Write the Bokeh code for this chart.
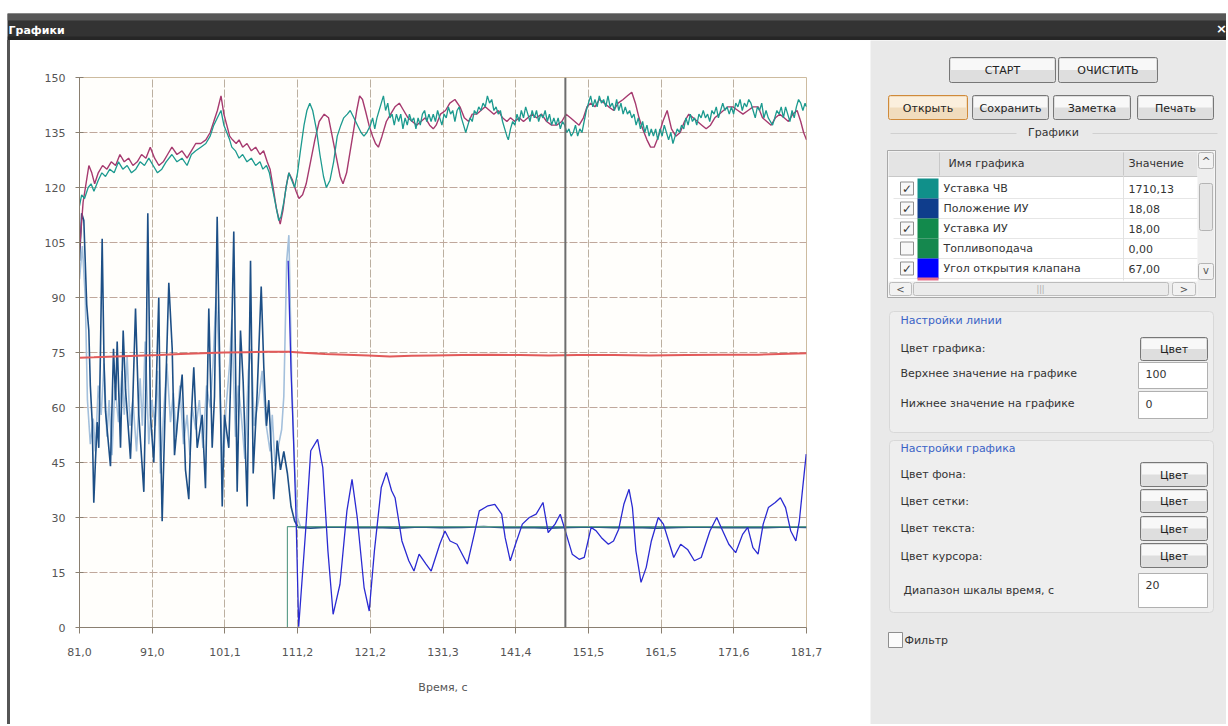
from bokeh.plotting import figure
from bokeh.models import Range1d, FixedTicker, Span, Spacer, Div
from bokeh.layouts import row, column
from bokeh.embed import file_html
from bokeh.resources import INLINE
from bokeh.core.properties import value

FONT = "DejaVu Sans"

# ---------------- data ----------------
x_ticks = [81.0, 91.07, 101.14, 111.21, 121.28, 131.35, 141.42, 151.49, 161.56, 171.63, 181.7]
x_labels = ["81,0", "91,0", "101,1", "111,2", "121,2", "131,3", "141,4", "151,5", "161,5", "171,6", "181,7"]
y_ticks = [0, 15, 30, 45, 60, 75, 90, 105, 120, 135, 150]
cursor_t = 148.3

teal_t = [81.0, 81.3, 81.7, 82.2, 82.6, 83.0, 83.6, 84.1, 84.6, 85.2, 85.8, 86.4, 87.0, 87.6, 88.2, 88.8, 89.4, 90.0,
          90.6, 91.2, 91.8, 92.4, 93.0, 93.8, 94.5, 95.2, 95.9, 96.5, 97.1, 97.8, 98.5, 99.1, 99.6, 100.1, 100.6,
          101.0, 101.4, 101.8, 102.1, 102.6, 103.1, 103.6, 104.2, 104.8, 105.4, 106.0, 106.4, 106.9, 107.3, 107.8,
          108.2, 108.6, 108.9, 109.3, 109.7, 110.0, 110.4, 110.8, 111.2, 111.6, 112.1, 112.5, 112.9, 113.3, 113.8,
          114.3, 114.8, 115.2, 115.7, 116.2, 116.7, 117.2, 117.6, 118.1, 118.5, 119.0, 119.5, 120.0, 120.4, 120.8,
          121.3, 121.6, 121.9, 122.2, 122.5, 122.8, 123.1, 123.4, 123.7, 124.0, 124.3, 124.6, 124.9, 125.2, 125.5,
          125.8, 126.1, 126.4, 126.7, 127.0, 127.3, 127.6, 127.9, 128.2, 128.5, 128.8, 129.1, 129.4, 129.7, 130.0,
          130.3, 130.6, 130.9, 131.2, 131.5, 131.8, 132.1, 132.4, 132.7, 133.0, 133.3, 133.6, 133.9, 134.2, 134.5,
          134.8, 135.1, 135.4, 135.7, 136.0, 136.3, 136.6, 136.9, 137.2, 137.5, 137.8, 138.1, 138.4, 138.7, 139.0,
          139.3, 139.6, 139.9, 140.2, 140.4, 140.7, 141.0, 141.3, 141.6, 141.9, 142.2, 142.5, 142.8, 143.1, 143.4,
          143.7, 144.0, 144.3, 144.6, 144.9, 145.2, 145.5, 145.8, 146.1, 146.4, 146.7, 147.0, 147.3, 147.6, 147.9,
          148.2, 148.5, 148.8, 149.1, 149.4, 149.7, 150.0, 150.3, 150.6, 150.9, 151.2, 151.5, 151.8, 152.1, 152.4,
          152.7, 153.0, 153.3, 153.6, 153.9, 154.2, 154.5, 154.8, 155.1, 155.4, 155.7, 156.0, 156.3, 156.6, 156.9,
          157.2, 157.5, 157.8, 158.1, 158.4, 158.7, 159.0, 159.3, 159.6, 159.9, 160.2, 160.5, 160.8, 161.1, 161.4,
          161.7, 162.0, 162.3, 162.6, 162.9, 163.2, 163.5, 163.8, 164.1, 164.4, 164.7, 165.0, 165.3, 165.6, 165.9,
          166.2, 166.5, 166.8, 167.1, 167.4, 167.7, 168.0, 168.3, 168.6, 168.9, 169.2, 169.5, 169.8, 170.1, 170.4,
          170.7, 171.0, 171.3, 171.6, 171.9, 172.2, 172.5, 172.8, 173.1, 173.4, 173.7, 174.0, 174.3, 174.6, 174.9,
          175.2, 175.5, 175.8, 176.1, 176.4, 176.7, 177.0, 177.3, 177.6, 177.9, 178.2, 178.5, 178.8, 179.1, 179.4,
          179.7, 180.0, 180.3, 180.6, 180.9, 181.2, 181.5, 181.7]
teal_v = [115, 118, 117, 120, 121, 119, 122, 124, 123, 125, 124, 127, 125, 126, 124, 125, 127, 126,
          128, 126, 124, 125, 127, 129, 127, 128, 126, 129, 130, 131, 132, 134, 137, 139, 141,
          137, 135, 133, 131, 130, 128, 129, 127, 128, 126, 127, 125, 126, 124, 119,
          115, 111, 112, 116, 121, 124, 122, 120, 124, 130, 137, 141, 143, 141, 136,
          129, 123, 120, 122, 127, 134, 137, 139, 140, 141, 139, 137, 135, 134, 135,
          137, 139, 136, 139, 141, 143, 145, 141, 143, 139, 140, 137, 140, 138, 140,
          136, 139, 137, 140, 138, 139, 136, 139, 137, 140, 141, 138, 140, 138, 140,
          138, 141, 139, 137, 140, 139, 142, 140, 141, 138, 141, 142, 139, 137, 135,
          137, 139, 138, 141, 140, 142, 141, 143, 142, 145, 143, 144, 141, 142, 140,
          141, 138, 136, 134, 133, 136, 138, 137, 140, 138, 141, 139, 142, 140, 138,
          141, 139, 141, 138, 140, 139, 141, 138, 140, 137, 139, 137, 139, 136, 138,
          137, 135, 136, 134, 135, 137, 134, 136, 135, 138, 141, 143, 145, 142, 144,
          142, 145, 143, 144, 142, 145, 142, 143, 141, 144, 141, 143, 140, 142, 140,
          141, 139, 140, 137, 139, 136, 138, 135, 137, 134, 136, 134, 136, 133, 136,
          134, 137, 135, 133, 135, 132, 134, 136, 135, 137, 136, 139, 137, 140, 138,
          139, 137, 140, 139, 141, 139, 140, 138, 141, 140, 142, 139, 141, 143, 141,
          142, 140, 142, 140, 143, 142, 144, 141, 143, 142, 144, 143, 141, 139, 142,
          141, 143, 139, 141, 139, 138, 137, 139, 141, 140, 142, 139, 142, 140, 138,
          141, 139, 142, 144, 143, 141, 143, 142]

mag_t = [81.0, 81.2, 81.5, 81.9, 82.3, 82.7, 83.1, 83.6, 84.2, 84.8, 85.4, 86.0, 86.6, 87.2, 87.8, 88.4, 89.0, 89.6,
         90.2, 90.8, 91.4, 92.0, 92.6, 93.2, 93.8, 94.5, 95.2, 95.9, 96.5, 97.1, 97.8, 98.5, 99.1, 99.6, 100.1,
         100.6, 101.0, 101.4, 101.8, 102.2, 102.7, 103.1, 103.6, 104.2, 104.8, 105.4, 106.0, 106.5, 107.0, 107.4,
         107.9, 108.3, 108.8, 109.2, 109.6, 110.0, 110.5, 111.0, 111.4, 111.9, 112.4, 113.0, 113.6, 114.2, 114.9,
         115.5, 116.0, 116.6, 117.1, 117.5, 118.0, 118.5, 119.0, 119.4, 119.8, 120.2, 120.6, 121.1, 121.6, 122.0,
         122.4, 122.9, 123.5, 124.1, 124.7, 125.3, 125.9, 126.5, 127.1, 127.7, 128.3, 128.9, 129.5, 130.0, 130.4,
         131.0, 131.7, 132.3, 133.0, 133.7, 134.3, 134.9, 135.4, 136.0, 136.6, 137.2, 137.8, 138.4, 139.0, 139.6,
         140.2, 140.7, 141.3, 141.9, 142.5, 143.1, 143.7, 144.3, 145.0, 145.7, 146.4, 147.1, 147.8, 148.4, 149.0,
         149.6, 150.2, 150.8, 151.3, 151.8, 152.4, 153.0, 153.7, 154.3, 155.0, 155.6, 156.3, 156.9, 157.5, 158.0,
         158.5, 159.0, 159.6, 160.1, 160.6, 161.2, 161.8, 162.4, 163.0, 163.6, 164.2, 164.8, 165.4, 166.0, 166.6,
         167.2, 167.8, 168.4, 169.0, 169.6, 170.2, 170.8, 171.5, 172.2, 172.9, 173.6, 174.3, 175.0, 175.6, 176.2,
         176.8, 177.4, 178.0, 178.6, 179.2, 179.8, 180.4, 180.9, 181.3, 181.7]
mag_v = [103, 108, 116, 121, 126, 124, 121, 124, 126, 125, 127, 126, 129, 127, 128, 126, 127, 129,
         128, 131, 128, 126, 127, 129, 131, 129, 130, 128, 130, 132, 132, 133, 135, 138, 141,
         145, 140, 137, 134, 133, 132, 133, 131, 132, 130, 131, 129, 130, 127, 125,
         119, 114, 110, 114, 120, 124, 122, 119, 117, 118, 121, 127, 133, 138, 140,
         139, 134, 128, 123, 121, 124, 130, 136, 141, 145, 144, 141, 137, 134, 132,
         131, 134, 138, 140, 142, 143, 141, 139, 138, 137, 138, 139, 137, 136, 137,
         140, 141, 143, 144, 142, 139, 138, 140, 140, 141, 142, 141, 140, 141, 139,
         138, 139, 138, 139, 138, 139, 140, 139, 140, 138, 137, 137, 138, 140, 139,
         138, 137, 139, 142, 143, 142, 144, 143, 142, 141, 143, 144, 145, 146, 143,
         139, 136, 133, 131, 131, 134, 138, 141, 136, 134, 135, 138, 140, 139, 138,
         137, 136, 137, 139, 140, 141, 142, 142, 141, 140, 141, 142, 142, 139, 138,
         137, 139, 140, 139, 138, 140, 141, 138, 135, 133]

red_t = [81.0, 83.0, 86.0, 89.0, 92.0, 95.0, 98.0, 101.0, 104.0, 107.0, 110.0, 112.0, 115.0, 118.0, 121.0, 124.0,
         127.0, 130.0, 134.0, 138.0, 142.0, 146.0, 150.0, 155.0, 160.0, 165.0, 170.0, 175.0, 178.0, 181.7]
red_v = [73.6, 73.7, 73.9, 74.1, 74.3, 74.6, 74.8, 75.0, 75.1, 75.2, 75.2, 74.9, 74.6, 74.4, 74.2, 73.9,
         74.1, 74.2, 74.3, 74.4, 74.3, 74.2, 74.3, 74.3, 74.2, 74.3, 74.4, 74.4, 74.6, 74.8]

light_t = [81.0, 81.4, 81.8, 82.1, 82.5, 82.9, 83.2, 83.6, 84.0, 84.4, 84.8, 85.1, 85.5, 85.9, 86.4, 86.9, 87.2,
           87.6, 88.0, 88.4, 88.9, 89.4, 89.7, 90.1, 90.6, 91.0, 91.5, 91.8, 92.2, 92.7, 93.1, 93.6, 94.0, 94.4,
           94.9, 95.4, 95.9, 96.3, 96.6, 97.1, 97.6, 98.1, 98.6, 99.1, 99.5, 99.9, 100.2, 100.6, 100.9, 101.3,
           101.8, 102.1, 102.6, 103.0, 103.4, 103.9, 104.4, 104.8, 105.2, 105.8, 106.3, 106.8, 107.4, 107.7, 108.1,
           108.6, 109.0, 109.3, 109.7, 110.0, 110.4, 110.8, 111.2, 111.6]
light_v = [95, 104, 90, 62, 50, 57, 48, 66, 58, 72, 52, 62, 47, 66, 56, 70, 58,
           74, 55, 62, 48, 68, 55, 78, 50, 62, 55, 70, 42, 60, 72, 56, 64, 52,
           66, 50, 58, 47, 60, 54, 62, 49, 66, 60, 72, 90, 80, 56, 44, 60,
           72, 84, 52, 66, 58, 46, 70, 76, 55, 62, 70, 56, 48, 58, 44,
           50, 54, 63, 100, 107, 67, 44, 30, 27.5]

navy_t = [81.0, 81.3, 81.6, 82.0, 82.29, 82.5, 82.76, 82.98, 83.2, 83.45, 83.67, 83.9, 84.14, 84.4, 84.6, 85.29,
          85.5, 85.71, 86.0, 86.22, 86.68, 87.05, 87.37, 87.7, 88.06, 88.4, 88.76, 89.21, 89.91, 90.2, 90.46,
          90.83, 91.29, 91.6, 91.98, 92.2, 92.45, 92.91, 93.37, 93.84, 94.16, 94.75, 95.22, 95.68, 96.14, 96.5,
          96.83, 97.3, 97.99, 98.45, 98.91, 99.38, 99.7, 100.07, 100.43, 100.77, 101.08, 101.68, 102.0, 102.37,
          102.84, 103.3, 103.67, 104.23, 104.69, 105.06, 105.61, 106.17, 106.53, 106.9, 107.22, 107.91, 108.38,
          108.84, 109.3, 109.8, 110.3, 110.8, 111.3, 113.0, 116.0, 119.0, 122.0, 125.0, 128.0, 131.0, 134.0,
          137.0, 140.0, 143.0, 146.0, 149.0, 152.0, 155.0, 158.0, 161.0, 164.0, 167.0, 170.0, 173.0, 176.0,
          179.0, 181.7]
navy_v = [100, 113, 111, 88, 81, 66, 56, 34, 45, 56, 49, 75, 106, 72, 59, 44,
          60, 76, 62, 78, 49, 81, 65, 56, 46, 63, 87, 58, 37, 66, 113,
          58, 45, 64, 90, 55, 29, 63, 94, 76, 47, 60, 69, 43, 35, 58,
          71, 49, 58, 38, 87, 49, 63, 112, 71, 33, 58, 49, 72, 108,
          37, 81, 67, 33, 100, 42, 64, 93, 71, 55, 62, 35, 51,
          43, 48, 42, 33, 29, 27.3, 27.1, 27.4, 27.2, 27.3, 27.1, 27.4, 27.2, 27.3,
          27.5, 27.2, 27.3, 27.1, 27.3, 27.4, 27.2, 27.3, 27.1, 27.3, 27.4, 27.2, 27.3, 27.2,
          27.4, 27.3]

green_t = [81.0, 109.8, 109.8, 181.7]
green_v = [0.0, 0.0, 27.5, 27.5]

blue_t = [109.9, 110.3, 110.7, 111.0, 111.36, 112.32, 113.03, 113.98, 114.7, 115.41, 116.13, 117.08, 118.04,
          118.75, 119.47, 120.42, 121.13, 121.85, 122.8, 123.52, 124.23, 124.71, 125.66, 126.61, 127.33, 128.04,
          129.0, 129.71, 130.9, 131.62, 132.33, 133.29, 134.72, 135.67, 136.38, 137.58, 138.53, 139.48, 139.96,
          140.67, 141.39, 142.34, 143.3, 144.25, 145.2, 145.92, 146.87, 147.59, 148.3, 149.25, 150.21, 150.92,
          151.87, 152.59, 153.3, 154.26, 154.97, 155.69, 156.4, 157.12, 157.59, 158.07, 158.78, 159.5, 160.21,
          161.17, 161.88, 162.6, 163.31, 164.27, 165.22, 166.17, 167.12, 168.32, 169.27, 169.99, 170.94, 171.89,
          172.85, 173.56, 174.28, 174.99, 175.7, 176.42, 177.37, 178.09, 178.8, 179.52, 180.23, 180.71, 181.18,
          181.66]
blue_v = [100, 70, 48, 30, 0.2, 26.3, 48.2, 51.3, 43.6, 20.9, 3.6, 11.8, 31.8,
          40.4, 30.0, 10.9, 4.5, 20.9, 38.2, 42.3, 37.3, 35.4, 23.6, 18.2, 15.4, 20.0,
          17.3, 15.4, 22.7, 26.3, 23.6, 22.7, 17.3, 25.4, 31.8, 33.2, 33.6, 30.9, 24.5,
          18.2, 22.7, 28.2, 30.0, 30.9, 34.1, 25.9, 28.2, 30.9, 26.3, 20.0, 18.6, 19.1,
          27.3, 26.3, 24.5, 22.7, 23.6, 26.8, 33.6, 37.7, 32.7, 20.9, 12.3, 16.4, 23.6,
          30.0, 28.2, 23.6, 19.1, 22.7, 21.3, 18.2, 19.1, 26.3, 30.0, 26.8, 22.7, 20.4,
          25.4, 27.3, 21.8, 20.0, 28.2, 32.7, 34.1, 35.4, 32.7, 26.3, 23.6, 29.1, 38.2,
          47.3]

series_names = ["Уставка ЧВ", "Положение ИУ", "Уставка ИУ", "Топливоподача", "Угол открытия клапана"]
series_values = ["1710,13", "18,08", "18,00", "0,00", "67,00"]
series_colors = ["#10908a", "#0f3d8c", "#128a4c", "#15884e", "#0000ff"]
series_checked = [True, True, True, False, True]

# ---------------- main chart ----------------
p = figure(width=860, height=684, x_range=Range1d(81.0, 181.7), y_range=Range1d(0, 150),
           output_backend="svg", toolbar_location=None,
           min_border_left=69, min_border_right=64, min_border_top=37, min_border_bottom=97)
p.background_fill_color = "#fffefb"
p.border_fill_color = "white"
p.outline_line_color = "#cdbb9f"

p.xaxis.ticker = FixedTicker(ticks=x_ticks)
p.xaxis.major_label_overrides = {t: l for t, l in zip(x_ticks, x_labels)}
p.yaxis.ticker = FixedTicker(ticks=y_ticks)
for ax in (p.xaxis, p.yaxis):
    ax.axis_line_color = "#8a7f70"
    ax.major_tick_line_color = "#8a7f70"
    ax.minor_tick_line_color = None
    ax.major_label_text_font = FONT
    ax.major_label_text_font_size = "11px"
    ax.major_label_text_color = "#555555"
p.xaxis.major_tick_in = 0
p.xaxis.major_tick_out = 6
p.xaxis.major_label_standoff = 14
p.yaxis.major_tick_in = 4
p.yaxis.major_tick_out = 4
p.yaxis.major_label_standoff = 10
p.xaxis.axis_label = "Время, с"
p.xaxis.axis_label_text_font = FONT
p.xaxis.axis_label_text_font_size = "11px"
p.xaxis.axis_label_text_font_style = "normal"
p.xaxis.axis_label_text_color = "#555555"
p.xaxis.axis_label_standoff = 22

p.xgrid.grid_line_color = "#bcb0a0"
p.ygrid.grid_line_color = "#c0a89c"
p.xgrid.grid_line_dash = "8 2"
p.ygrid.grid_line_dash = "8 2"

p.line(light_t, light_v, line_color="#a4c0dc", line_width=1.6)
p.line(navy_t, navy_v, line_color="#1d4f86", line_width=1.6)
p.line(green_t, green_v, line_color="#5f9f8c", line_width=1.2)
p.line(red_t, red_v, line_color="#e25a5a", line_width=2)
p.line(blue_t, blue_v, line_color="#2a2ad2", line_width=1.3)
p.line(mag_t, mag_v, line_color="#a63a6f", line_width=1.4)
p.line(teal_t, teal_v, line_color="#1c9a8f", line_width=1.3)
p.add_layout(Span(location=cursor_t, dimension="height", line_color="#6e6e6e", line_width=2))

# ---------------- title bar ----------------
tb = figure(width=1219, height=27, x_range=Range1d(7, 1226), y_range=Range1d(0, 27),
            output_backend="svg", toolbar_location=None, x_axis_type=None, y_axis_type=None, min_border=0)
tb.outline_line_color = None
tb.background_fill_color = "#333333"
tb.border_fill_color = "#333333"
tb.quad(left=[7, 7], right=[1226, 1226], top=[27, 4], bottom=[20, 0], fill_color=["#575757", "#262626"], line_color=None)
tb.text(x=[8], y=[10], text=["Графики"], text_font=value(FONT), text_font_size="11px", text_font_style="bold",
        text_color="white", text_baseline="middle")
tb.text(x=[1221], y=[12], text=["×"], text_font=value(FONT), text_font_size="13px", text_font_style="bold",
        text_color="white", text_baseline="middle", text_align="center")

# ---------------- left border ----------------
lb = Div(width=3, height=684, margin=(0, 0, 0, 0), styles={"background-color": "#555555"})

# ---------------- side panel ----------------
sp = figure(width=356, height=684, x_range=Range1d(870, 1226), y_range=Range1d(724, 40),
            output_backend="svg", toolbar_location=None, x_axis_type=None, y_axis_type=None, min_border=0)
sp.outline_line_color = None
sp.background_fill_color = "#e9e9e9"
sp.border_fill_color = "#e9e9e9"

def txt(x, y, s, color="#333333", align="left", size="11px"):
    sp.text(x=[x], y=[y], text=[s], text_font=value(FONT), text_font_size=size, text_color=color,
            text_align=align, text_baseline="middle")

def button(l, r, t, b, label, hot=False):
    sp.quad(left=[l], right=[r], top=[t], bottom=[b], fill_color="#f1dcbd" if hot else "#dedede",
            line_color="#d08a3a" if hot else "#777777", border_radius=2)
    sp.quad(left=[l + 1.5], right=[r - 1.5], top=[t + 1.5], bottom=[(t + b) / 2], line_color=None,
            fill_color="#fbefdd" if hot else "#f8f8f8")
    txt((l + r) / 2, (t + b) / 2 + 0.5, label, color="#222222", align="center")

button(949, 1055, 57, 82, "СТАРТ")
button(1058, 1157, 57, 82, "ОЧИСТИТЬ")
button(888, 967, 95, 119, "Открыть", hot=True)
button(972, 1048, 95, 119, "Сохранить")
button(1053, 1130, 95, 119, "Заметка")
button(1137, 1213, 95, 119, "Печать")

sp.segment(x0=[890, 1092], y0=[133, 133], x1=[1016, 1217], y1=[133, 133], line_color="#d0d0d0")
txt(1053, 132, "Графики", align="center")

# table
sp.quad(left=[887], right=[1215], top=[150], bottom=[297], fill_color="white", line_color="#a8a8a8")
sp.quad(left=[888], right=[1197], top=[151], bottom=[176], fill_color="#e4e4e4", line_color=None)
sp.segment(x0=[888, 939, 1123], y0=[176, 152, 152], x1=[1197, 939, 1123], y1=[176, 175, 175], line_color="#c8c8c8")
txt(948, 163, "Имя графика", color="#333333")
txt(1128, 163, "Значение", color="#333333")
row_y = [188, 208, 228, 248, 268]
for i in range(5):
    yc = row_y[i]
    sp.segment(x0=[893], y0=[yc + 10], x1=[1197], y1=[yc + 10], line_color="#e6e6e6")
    sp.quad(left=[900], right=[913], top=[yc - 6.5], bottom=[yc + 6.5], fill_color="#f8f8f8", line_color="#8e8e8e")
    if series_checked[i]:
        txt(906.5, yc + 0.5, "✓", color="#333333", align="center", size="12px")
    sp.quad(left=[917], right=[938], top=[yc - 10], bottom=[yc + 10], fill_color=series_colors[i], line_color=None)
    txt(943, yc, series_names[i])
    txt(1128, yc, series_values[i])
sp.quad(left=[917], right=[938], top=[277], bottom=[280], fill_color="#e8708a", line_color=None)
sp.segment(x0=[1123], y0=[176], x1=[1123], y1=[280], line_color="#e2e2e2")
# vertical scrollbar
sp.quad(left=[1197], right=[1214], top=[151], bottom=[296], fill_color="#eeeeee", line_color=None)
sp.quad(left=[1198, 1199, 1198], right=[1213, 1212, 1213], top=[152, 183, 263], bottom=[168, 230, 279],
        fill_color=["#f2f2f2", "#e6e6e6", "#f2f2f2"], line_color="#b4b4b4", border_radius=2)
txt(1205.5, 161, "^", color="#555555", align="center", size="11px")
txt(1205.5, 270, "v", color="#555555", align="center", size="10px")
# horizontal scrollbar
sp.quad(left=[888], right=[1197], top=[281], bottom=[296], fill_color="#eeeeee", line_color=None)
sp.quad(left=[889, 913, 1172], right=[911, 1168, 1195], top=[282, 282, 282], bottom=[295, 295, 295],
        fill_color=["#f2f2f2", "#ebebeb", "#f2f2f2"], line_color="#bcbcbc", border_radius=2)
txt(900, 288.5, "<", color="#555555", align="center", size="10px")
txt(1183.5, 288.5, ">", color="#555555", align="center", size="10px")
txt(1040, 288.5, "|||", color="#aaaaaa", align="center", size="8px")

# group boxes
sp.quad(left=[889, 889], right=[1213, 1213], top=[311, 440], bottom=[432, 612],
        fill_color="#eeeeee", line_color="#d8d8d8", border_radius=4)
txt(900, 320, "Настройки линии", color="#3a63c6")
txt(900, 448, "Настройки графика", color="#3a63c6")

txt(900, 348, "Цвет графика:")
txt(900, 373, "Верхнее значение на графике")
txt(900, 403, "Нижнее значение на графике")
txt(900, 474, "Цвет фона:")
txt(900, 501, "Цвет сетки:")
txt(900, 528, "Цвет текста:")
txt(900, 556, "Цвет курсора:")
txt(903, 590, "Диапазон шкалы время, с")

for (t, b) in [(337, 360), (462, 486), (489, 512), (516, 540), (543, 567)]:
    button(1140, 1207, t, b, "Цвет")

for (t, b, s, ty) in [(362, 388, "100", 373), (391, 418, "0", 403), (573, 607, "20", 584)]:
    sp.quad(left=[1138], right=[1207], top=[t], bottom=[b], fill_color="white", line_color="#b0b0b0")
    txt(1145, ty, s)

sp.quad(left=[888], right=[902], top=[632], bottom=[647], fill_color="#fbfbfb", line_color="#8e8e8e")
txt(904, 640, "Фильтр")

layout = row(Spacer(width=7, height=724),
             column(Spacer(width=1219, height=13), tb, row(lb, p, column(sp))))
open("out.html", "w").write(file_html(layout, INLINE))
